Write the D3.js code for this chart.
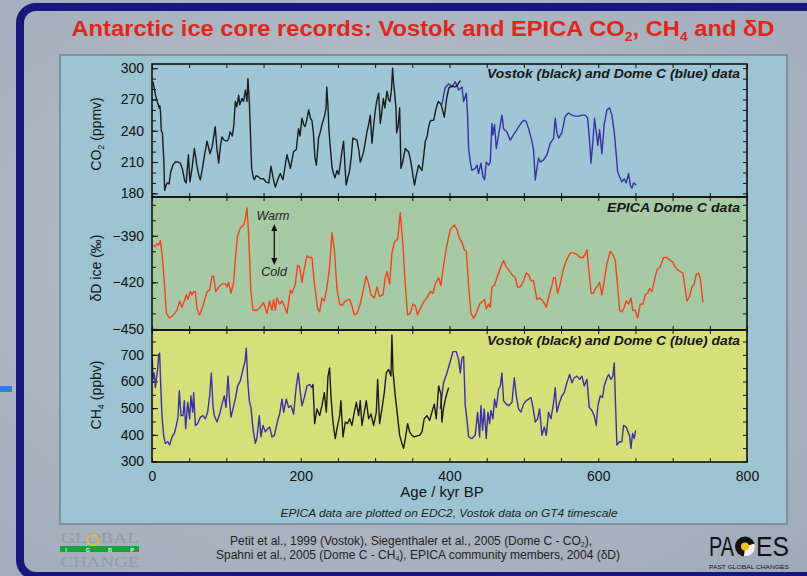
<!DOCTYPE html>
<html><head><meta charset="utf-8">
<script src="https://cdn.jsdelivr.net/npm/d3@7"></script>
<style>body{margin:0;background:#aab3c0}svg{display:block}</style>
</head><body>
<script>
// ---------- DATA ----------
const ageTicks = [0, 200, 400, 600, 800];
const co2Ticks = [180, 210, 240, 270, 300];
const dDTicks = [-450, -420, -390];
const ch4Ticks = [300, 400, 500, 600, 700];

const co2Vostok = [[1.3,287],[3,281],[5,273],[7,268],[8.5,265],[9.4,262],[10.5,264],[11.5,258],[12.5,240],[14,238],[16,210],[17,183],[19,188],[21,190],[23,189],[25,200],[28,207],[31,210],[35,210],[38,209],[41,203],[44,192],[46,190],[49,217],[51,191],[54,205],[57,223],[60,208],[63,197],[65,193],[68,205],[71,218],[74,230],[78,218],[81,225],[85,244],[87,225],[89.6,209],[92,225],[94,234],[97,231],[100.8,230],[103,232],[105,239],[108,235],[110,245],[112,268],[114,263],[116.5,274],[118,265],[121,271],[123,268],[125.5,279],[127.7,268],[129,290],[131,266],[134,204],[136,196],[137.6,193],[140,197],[143,196],[146,194],[150,194],[153,191],[157,190],[160,206],[163,194],[165.8,186],[169,193],[172.5,199],[176,193],[179,206],[181.5,217],[184,210],[186,204],[190.4,220],[194,222],[197,242],[199,235],[201.6,252],[204,246],[206,244],[208,250],[210.6,260],[213,252],[215,250],[217,238],[219,215],[221,207],[224,233],[226,238],[228.5,246],[232,254],[234,262],[235,282],[236.5,265],[238,239],[240.6,217],[242,205],[244,199],[246,195],[248.7,202],[251,198],[253,207],[255,218],[257.6,230],[259,212],[261,188],[263,194],[265.7,202],[268,215],[270,233],[273,232],[275.6,231],[278,222],[280,210],[282,214],[284.5,220],[287,230],[289,239],[291,245],[293.5,255],[295.8,228],[298,245],[300,258],[302,268],[304.7,276],[307,247],[309,258],[311,271],[313,262],[316,278],[318,270],[320,268],[322,280],[323.5,300],[325,284],[326,278],[328,262],[329,238],[331,245],[333,262],[334.7,204],[337,210],[340.6,223],[343,221],[345,220],[347,214],[349.5,204],[351,196],[353,188],[355,196],[358.5,207],[361,204],[363,202],[365,214],[367.5,230],[370,235],[372,244],[374,249],[376,250],[378.6,250],[381,258],[383,264],[385,268],[388,266],[390,262],[393,253],[396,270],[399,281],[403,283],[407,282],[410,283],[414.5,288]];

const co2Dome = [[389.8,265],[394,281],[398.8,285],[403.3,282],[407.8,287],[412.2,279],[416.7,282],[419,268],[422.6,276],[424.3,255],[425.7,223],[428,210],[430,202],[434.6,204],[437,207],[439,199],[442.3,209],[445,196],[447.2,193],[449.4,210],[452.6,207],[454.8,210],[457,247],[458.4,236],[460.6,246],[462.9,223],[466,236],[470.5,255],[472.7,242],[477,239],[481.7,231],[486,236],[490.7,241],[495,246],[499.6,250],[503,249],[506.4,242],[510.8,230],[513,222],[515.3,193],[517.5,204],[519.8,214],[522,210],[526.5,212],[531,217],[535.5,228],[540,233],[542.2,252],[544.4,238],[546.7,233],[551,238],[555.6,254],[560,257],[564.6,255],[569,254],[573.6,254],[578,255],[582.5,255],[585.7,252],[588.4,230],[590.2,209],[592.8,230],[595,252],[597.3,239],[599.5,226],[601.8,241],[604.9,218],[608,246],[611.7,260],[615.2,262],[618.4,255],[621.5,239],[624.2,217],[626,201],[628.7,196],[631.8,191],[635,194],[637.6,190],[640.8,199],[643,188],[645.3,185],[647.5,190],[651,188]];

const dDDome = [[1.3,-396],[4.5,-397],[6.7,-395],[9,-396],[11.2,-393],[13.4,-401],[16.6,-420],[19.3,-440],[23.7,-443],[29,-441],[33.6,-438],[37.2,-432],[40.3,-436],[43.5,-432],[46.2,-428],[48.4,-431],[51.5,-426],[53.8,-428],[56,-426],[58.3,-426],[60.5,-437],[64,-441],[68.6,-435],[74,-426],[77.5,-425],[80.7,-416],[82.9,-416],[85.6,-426],[89.6,-423],[94,-421],[98.6,-421],[100.8,-423],[103,-420],[106.2,-427],[109.8,-420],[112,-405],[115,-390],[118.7,-385],[123.2,-383],[125.5,-379],[127.7,-372],[130,-390],[133,-426],[135.8,-438],[141,-438],[145.6,-436],[150,-433],[154.6,-440],[158.2,-432],[161.3,-438],[163.6,-431],[165.8,-438],[168,-430],[171.6,-434],[174.8,-432],[177.9,-435],[181.5,-440],[186,-425],[188.2,-427],[192.7,-421],[195.8,-409],[198.5,-410],[201.6,-420],[204.8,-411],[208.4,-403],[212,-404],[215,-404],[218.2,-420],[222.7,-437],[225.4,-439],[228.5,-430],[231.7,-432],[235.3,-423],[238.8,-410],[242,-388],[245,-398],[248.7,-424],[252.3,-434],[255.4,-435],[260,-432],[265.7,-431],[268.8,-435],[272,-441],[275.6,-440],[280,-434],[284.5,-424],[288,-416],[291.3,-421],[294.4,-428],[298.9,-430],[302.5,-423],[306,-429],[310.5,-428],[313.7,-417],[316,-413],[319.5,-421],[322.6,-401],[326.2,-394],[330.3,-392],[333.8,-375],[337.4,-396],[340.6,-422],[343.7,-441],[347.3,-440],[350.9,-434],[354,-435],[357,-441],[361.6,-436],[366,-432],[369.7,-430],[374,-426],[377.8,-427],[380.9,-421],[385.4,-417],[388.5,-422],[392,-409],[396.5,-396],[401,-386],[406.4,-383],[410,-386],[413.6,-392],[416.7,-394],[419.9,-399],[422.6,-400],[425.7,-422],[428.8,-440],[432.4,-443],[436,-440],[440.5,-434],[445,-432],[447.2,-431],[449.4,-437],[452.6,-434],[454.8,-436],[457,-423],[460.2,-422],[463.8,-417],[468.3,-411],[472.7,-406],[476.3,-410],[479.5,-412],[484,-415],[488.4,-417],[491.6,-423],[495.1,-423],[499.6,-419],[503.2,-414],[506.3,-415],[509.5,-419],[513,-419],[517.5,-431],[521.1,-430],[525.6,-432],[530.1,-436],[534.6,-427],[537.7,-422],[540,-417],[542.2,-417],[545.3,-427],[548.9,-421],[553.4,-411],[557.9,-405],[562.4,-401],[566.8,-401],[571.3,-402],[575.8,-404],[579.4,-404],[582.5,-402],[584.8,-399],[587.9,-415],[590.6,-427],[593.7,-427],[596,-424],[598.2,-423],[601.8,-420],[604.9,-428],[608,-419],[611.7,-408],[616.1,-400],[619.7,-402],[622.9,-406],[626,-422],[628.7,-438],[631.8,-439],[634.9,-436],[637.6,-432],[640.8,-434],[643.9,-430],[646.6,-438],[649.7,-438],[652.9,-443],[656.5,-434],[660,-434],[663.2,-428],[666.3,-427],[669,-424],[672.1,-426],[675.3,-419],[678.9,-412],[683.3,-410],[687.8,-404],[692.3,-404],[696.8,-406],[700.4,-407],[703.5,-410],[706.7,-412],[710.2,-413],[713.8,-414],[716.9,-424],[719.2,-432],[722.8,-429],[725.9,-423],[729.1,-421],[731.7,-415],[734.9,-414],[737.1,-417],[740.7,-433]];

const ch4DomeYoung = [[0.4,688],[1.3,608],[3,632],[4.5,577],[5.8,608],[7.6,645],[9,700],[10.3,706],[11.6,595],[13.4,472],[15.7,398],[17.9,368],[21,374],[23.7,362],[26.9,392],[30,405],[32.7,435],[35,466],[36.7,565],[39,472],[41.7,472],[43.5,528],[45.3,423],[48,522],[50.6,460],[52.4,546],[54.7,485],[56,558],[58.3,435],[61.4,442],[65,466],[68.6,472],[71.7,460],[74.8,485],[77.5,546],[79.8,632],[82,509],[83.8,472],[87.4,448],[91,478],[94.1,515],[97.2,546],[99.5,503],[102.2,620],[104.4,522],[106.2,466],[108.9,497],[112,534],[115.2,583],[118.7,602],[122.3,645],[125,675],[126.8,725],[128.6,608],[130.8,528],[133,503],[135.8,423],[138.9,368],[141,386],[144.3,472],[146.5,392],[149.2,435],[152.4,411],[155.5,423],[158.2,429],[161.3,392],[164.5,398],[169,454],[171.6,478],[174.8,534],[177,485],[180.6,534],[183.7,503],[186.9,509],[190.4,478],[194,583],[196.7,632],[199.4,558],[201.6,509],[204.8,540],[208.4,583],[212,589],[215,577]];

const ch4Vostok = [[215,577],[216.4,589],[218.7,442],[221.8,497],[225.4,472],[228.5,509],[231.7,558],[234.4,485],[236.6,620],[238.8,651],[240.6,546],[243.3,448],[245.1,411],[246.4,386],[248.7,423],[252.3,472],[254,528],[256.8,392],[259.9,448],[263,442],[265.7,460],[268.8,435],[272,485],[274.7,522],[277.8,472],[280,528],[282.3,435],[285.4,485],[288.1,528],[291.3,460],[294.4,478],[298,435],[301.6,485],[303.4,608],[306,442],[309.2,497],[312.3,558],[315,632],[318.2,645],[321.3,620],[322.6,774],[324,638],[327.1,546],[330.3,466],[333,398],[336,368],[338.3,349],[340.6,386],[343.7,442],[346.4,411],[349.5,398],[352.7,392],[356.2,396],[359.8,398],[363,411],[366,460],[369.7,472],[373.3,454],[376.4,485],[379.5,515],[382.2,460],[385.4,583],[388.5,552],[389.8,448],[392,500],[395,540],[398.8,577]];

const ch4DomeOld = [[387.6,497],[392,595],[396.6,632],[401,675],[404.6,712],[409.1,712],[412.2,682],[414.5,632],[416.7,688],[419,694],[421.2,509],[423.4,460],[425.7,392],[430.2,386],[434.6,398],[437.8,485],[440.5,392],[442.3,509],[444.5,417],[446.7,497],[449.4,386],[451.7,485],[453.9,442],[455.7,491],[458.4,460],[460.6,534],[462.9,503],[466,571],[468.3,583],[470.5,632],[472.7,528],[476.3,515],[479.5,509],[484,522],[487.1,614],[489.8,546],[492.9,497],[496,485],[499.6,515],[503.2,528],[506.3,534],[509.5,540],[512.2,503],[515.3,448],[518.5,460],[521.1,497],[524.3,398],[527.4,429],[530.1,398],[533.2,485],[536.4,460],[540,522],[542.2,577],[544.4,485],[548,522],[551.2,546],[554.3,558],[557.9,595],[561.5,626],[564.6,595],[567.7,614],[571.3,620],[574.9,608],[578,620],[581.2,583],[584.8,608],[587.9,503],[591.5,491],[594.6,472],[597.3,435],[599.5,509],[602.7,546],[605.8,540],[608,583],[611.7,614],[613.9,626],[617,608],[619.7,620],[621.5,669],[623.3,509],[625.1,362],[628.7,374],[631.8,374],[634,435],[637.6,429],[639.9,411],[642.1,398],[643.9,349],[646.2,405],[648.4,386],[650.2,417]];

// ---------- LAYOUT ----------
const W = 807, H = 576;
const plotL = 152, plotR = 747;
const panels = [
  {top: 64, bottom: 197, domain: [176.5, 304], fill: "#9ec6d5"},
  {top: 197, bottom: 330, domain: [-450.7, -365], fill: "#a7c9a4"},
  {top: 330, bottom: 462, domain: [298, 793], fill: "#d6e07b"}
];
const blue = "#3a31a4", black = "#1c1c1c", red = "#f2431f";

const svg = d3.select("body").append("svg").attr("width", W).attr("height", H);
const defs = svg.append("defs");
const bg = defs.append("radialGradient").attr("id", "bg").attr("cx", "45%").attr("cy", "45%").attr("r", "75%");
bg.append("stop").attr("offset", "0%").attr("stop-color", "#bcc3cc");
bg.append("stop").attr("offset", "100%").attr("stop-color", "#a0abba");

svg.append("rect").attr("width", W).attr("height", H).attr("fill", "url(#bg)");
svg.append("rect").attr("x", 20).attr("y", 7).attr("width", 840).attr("height", 569)
  .attr("rx", 16).attr("fill", "none").attr("stroke", "#17177c").attr("stroke-width", 8);
svg.append("rect").attr("x", 0).attr("y", 386).attr("width", 12).attr("height", 6).attr("fill", "#2c7fe8");

const font = "Liberation Sans, Arial, sans-serif";
const narrow = "Liberation Sans Narrow, Liberation Sans, Arial, sans-serif";

// title
const title = svg.append("text").attr("x", 423).attr("y", 36).attr("text-anchor", "middle")
  .attr("font-family", font).attr("font-weight", "bold")
  .attr("font-size", 22).attr("fill", "#e0261a").attr("textLength", 703).attr("lengthAdjust", "spacingAndGlyphs");
title.append("tspan").text("Antarctic ice core records: Vostok and EPICA CO");
title.append("tspan").attr("font-size", 13).attr("dy", 5).text("2");
title.append("tspan").attr("dy", -5).text(", CH");
title.append("tspan").attr("font-size", 13).attr("dy", 5).text("4");
title.append("tspan").attr("dy", -5).text(" and \u03B4D");

// inner panel
svg.append("rect").attr("x", 60).attr("y", 55).attr("width", 727).attr("height", 469)
  .attr("fill", "#9dc4d2").attr("stroke", "#6d8591").attr("stroke-width", 1.5);

const x = d3.scaleLinear().domain([0, 800]).range([plotL, plotR]);
const ys = panels.map(p => d3.scaleLinear().domain(p.domain).range([p.bottom, p.top]));

panels.forEach(p => {
  svg.append("rect").attr("x", plotL).attr("y", p.top).attr("width", plotR - plotL)
    .attr("height", p.bottom - p.top).attr("fill", p.fill);
});

function styleAxis(g) {
  g.select(".domain").remove();
  g.selectAll("line").attr("stroke", "#111").attr("stroke-width", 1);
  g.selectAll("text").attr("font-family", font).attr("font-size", 14).attr("fill", "#111");
}

const minorAges = d3.range(0, 801, 50);
const minorVals = [d3.range(180, 301, 10), d3.range(-450, -364, 10), d3.range(300, 791, 50)];
const majorVals = [co2Ticks, dDTicks, ch4Ticks];

panels.forEach((p, i) => {
  const y = ys[i];
  svg.append("g").attr("transform", `translate(0,${p.bottom})`)
    .call(d3.axisBottom(x).tickValues(minorAges).tickSize(-4).tickFormat("")).call(styleAxis);
  svg.append("g").attr("transform", `translate(0,${p.top})`)
    .call(d3.axisTop(x).tickValues(minorAges).tickSize(-4).tickFormat("")).call(styleAxis);
  svg.append("g").attr("transform", `translate(${plotL},0)`)
    .call(d3.axisLeft(y).tickValues(minorVals[i]).tickSize(-4).tickFormat("")).call(styleAxis);
  svg.append("g").attr("transform", `translate(${plotL},0)`)
    .call(d3.axisLeft(y).tickValues(majorVals[i]).tickSize(-6).tickPadding(8).tickFormat(d3.format("d"))).call(styleAxis);
  svg.append("g").attr("transform", `translate(${plotR},0)`)
    .call(d3.axisRight(y).tickValues(minorVals[i]).tickSize(-4).tickFormat("")).call(styleAxis);
});

svg.append("g").attr("transform", `translate(0,${panels[2].bottom})`)
  .call(d3.axisBottom(x).tickValues(ageTicks).tickSize(0).tickPadding(9).tickFormat(d3.format("d"))).call(styleAxis);

const clip = defs.append("clipPath").attr("id", "clip");
panels.forEach(p => clip.append("rect").attr("x", plotL).attr("y", p.top).attr("width", plotR - plotL).attr("height", p.bottom - p.top));

function drawLine(data, yScale, color) {
  svg.append("path").datum(data).attr("clip-path", "url(#clip)")
    .attr("fill", "none").attr("stroke", color).attr("stroke-width", 1.4).attr("stroke-linejoin", "round")
    .attr("d", d3.line().x(d => x(d[0])).y(d => yScale(d[1])));
}
drawLine(co2Dome, ys[0], blue);
drawLine(co2Vostok, ys[0], black);
drawLine(dDDome, ys[1], red);
drawLine(ch4DomeYoung, ys[2], blue);
drawLine(ch4DomeOld, ys[2], blue);
drawLine(ch4Vostok, ys[2], black);

panels.forEach(p => {
  svg.append("rect").attr("x", plotL).attr("y", p.top).attr("width", plotR - plotL)
    .attr("height", p.bottom - p.top).attr("fill", "none").attr("stroke", "#111").attr("stroke-width", 1.6);
});

const insets = [["Vostok (black) and Dome C (blue) data", 78, 253], ["EPICA Dome C data", 212, 133], ["Vostok (black) and Dome C (blue) data", 345, 253]];
insets.forEach(([t, yy, len]) => {
  svg.append("text").attr("x", 740).attr("y", yy).attr("text-anchor", "end")
    .attr("font-family", font).attr("font-weight", "bold").attr("font-style", "italic")
    .attr("font-size", 12.5).attr("fill", "#161616").attr("textLength", len).attr("lengthAdjust", "spacingAndGlyphs").text(t);
});

svg.append("text").attr("x", 273).attr("y", 220).attr("text-anchor", "middle").attr("font-family", font)
  .attr("font-style", "italic").attr("font-size", 12.5).attr("fill", "#222").text("Warm");
svg.append("text").attr("x", 274).attr("y", 276).attr("text-anchor", "middle").attr("font-family", font)
  .attr("font-style", "italic").attr("font-size", 12.5).attr("fill", "#222").text("Cold");
svg.append("line").attr("x1", 274.3).attr("x2", 274.3).attr("y1", 228).attr("y2", 261).attr("stroke", "#111").attr("stroke-width", 1.3);
svg.append("path").attr("d", "M274.3,224 L271.3,231 L277.3,231 Z").attr("fill", "#111");
svg.append("path").attr("d", "M274.3,265 L271.3,258 L277.3,258 Z").attr("fill", "#111");

{
  const t1 = svg.append("text").attr("transform", "translate(101,134) rotate(-90)").attr("text-anchor", "middle")
    .attr("font-family", font).attr("font-size", 14).attr("fill", "#111");
  t1.append("tspan").text("CO");
  t1.append("tspan").attr("font-size", 9).attr("dy", 3).text("2");
  t1.append("tspan").attr("dy", -3).text(" (ppmv)");
  svg.append("text").attr("transform", "translate(101,268) rotate(-90)").attr("text-anchor", "middle")
    .attr("font-family", font).attr("font-size", 14).attr("fill", "#111").text("\u03B4D ice (\u2030)");
  const t3 = svg.append("text").attr("transform", "translate(101,395) rotate(-90)").attr("text-anchor", "middle")
    .attr("font-family", font).attr("font-size", 14).attr("fill", "#111");
  t3.append("tspan").text("CH");
  t3.append("tspan").attr("font-size", 9).attr("dy", 3).text("4");
  t3.append("tspan").attr("dy", -3).text(" (ppbv)");
}

svg.append("text").attr("x", 442).attr("y", 497).attr("text-anchor", "middle").attr("font-family", narrow)
  .attr("font-size", 15).attr("fill", "#111").text("Age / kyr BP");
svg.append("text").attr("x", 449).attr("y", 517).attr("text-anchor", "middle").attr("font-family", narrow)
  .attr("font-style", "italic").attr("font-size", 11.5).attr("fill", "#222").attr("textLength", 337).attr("lengthAdjust", "spacingAndGlyphs")
  .text("EPICA data are plotted on EDC2, Vostok data on GT4 timescale");

const c1 = svg.append("text").attr("x", 411).attr("y", 545).attr("text-anchor", "middle").attr("font-family", narrow)
  .attr("font-size", 12).attr("fill", "#222");
c1.append("tspan").text("Petit et al., 1999 (Vostok), Siegenthaler et al., 2005 (Dome C - CO");
c1.append("tspan").attr("font-size", 7).attr("dy", 2).text("2");
c1.append("tspan").attr("dy", -2).text("),");
const c2 = svg.append("text").attr("x", 418).attr("y", 559).attr("text-anchor", "middle").attr("font-family", narrow)
  .attr("font-size", 12).attr("fill", "#222");
c2.append("tspan").text("Spahni et al., 2005 (Dome C - CH");
c2.append("tspan").attr("font-size", 7).attr("dy", 2).text("4");
c2.append("tspan").attr("dy", -2).text("), EPICA community members, 2004 (\u03B4D)");

// GLOBAL CHANGE logo
svg.append("text").attr("x", 100).attr("y", 543).attr("text-anchor", "middle").attr("font-family", "Liberation Serif, serif")
  .attr("font-size", 15).attr("fill", "#979ba2").attr("textLength", 78).attr("lengthAdjust", "spacingAndGlyphs").text("GLOBAL");
svg.append("circle").attr("cx", 93).attr("cy", 540).attr("r", 5.5).attr("fill", "none").attr("stroke", "#e8c21c").attr("stroke-width", 1.5);
svg.append("rect").attr("x", 60).attr("y", 546).attr("width", 79).attr("height", 6).attr("fill", "#17a23a");
[["I", 66], ["G", 88], ["B", 110], ["P", 132]].forEach(([l, xx]) => svg.append("text").attr("x", xx).attr("y", 551.5)
  .attr("text-anchor", "middle").attr("font-family", font).attr("font-weight", "bold").attr("font-size", 5.5).attr("fill", "#e8f2e0").text(l));
svg.append("text").attr("x", 100).attr("y", 567).attr("text-anchor", "middle").attr("font-family", "Liberation Serif, serif")
  .attr("font-size", 15).attr("fill", "#979ba2").attr("textLength", 79).attr("lengthAdjust", "spacingAndGlyphs").text("CHANGE");

// PAGES logo
svg.append("text").attr("x", 734).attr("y", 556).attr("text-anchor", "end").attr("font-family", narrow)
  .attr("font-size", 27).attr("fill", "#111").attr("textLength", 25).attr("lengthAdjust", "spacingAndGlyphs").text("PA");
svg.append("text").attr("x", 756).attr("y", 556).attr("text-anchor", "start").attr("font-family", narrow)
  .attr("font-size", 27).attr("fill", "#111").attr("textLength", 33).attr("lengthAdjust", "spacingAndGlyphs").text("ES");
svg.append("circle").attr("cx", 745).attr("cy", 546.5).attr("r", 10).attr("fill", "#111");
svg.append("path").attr("d", "M745,546.5 L754.5,543.5 A10,10 0 0 1 744,556.5 Z").attr("fill", "#f4f4f4");
svg.append("circle").attr("cx", 745).attr("cy", 546.5).attr("r", 4).attr("fill", "#f2c31a");
svg.append("text").attr("x", 749).attr("y", 568.5).attr("text-anchor", "middle").attr("font-family", narrow)
  .attr("font-size", 6).attr("fill", "#111").attr("textLength", 80).attr("lengthAdjust", "spacingAndGlyphs").text("PAST GLOBAL CHANGES");
</script>
</body></html>
